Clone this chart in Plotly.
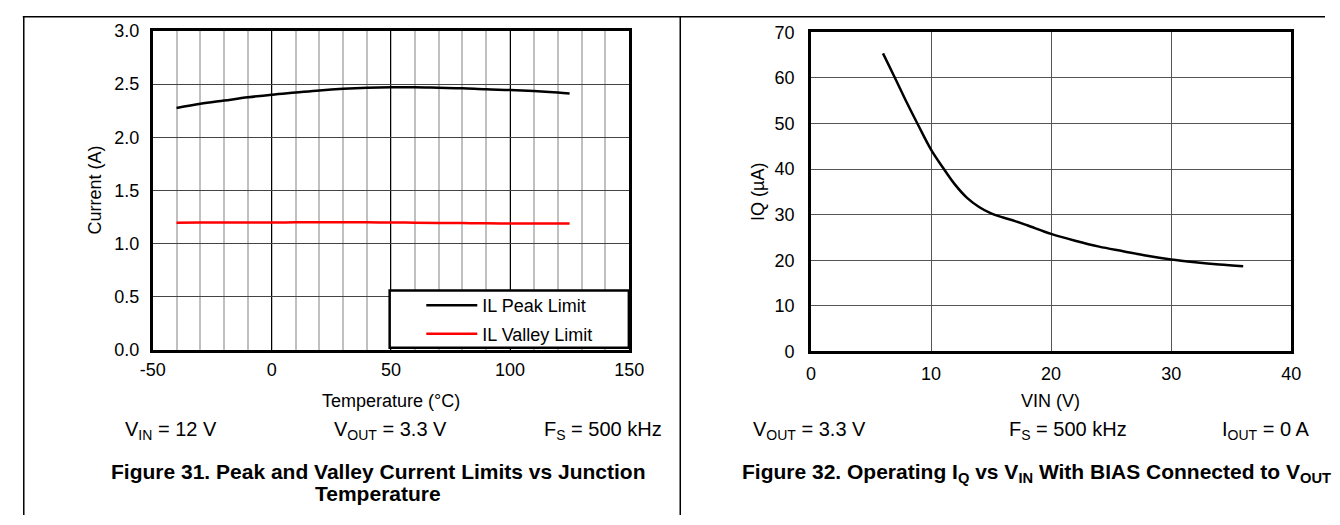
import plotly.graph_objects as go

# ---------------- data ----------------
temp_c = [-40, -30, -20, -10, 0, 10, 20, 30, 40, 50, 60, 70, 80, 90, 100, 110, 120, 125]
il_peak = [2.275, 2.315, 2.345, 2.375, 2.40, 2.42, 2.44, 2.455, 2.465, 2.47, 2.47,
           2.465, 2.46, 2.45, 2.445, 2.435, 2.42, 2.41]
il_valley = [1.196, 1.197, 1.197, 1.198, 1.198, 1.199, 1.200, 1.200, 1.199, 1.198,
             1.196, 1.194, 1.192, 1.190, 1.189, 1.188, 1.188, 1.188]

vin_v = [6, 7, 8, 9, 10, 11, 12, 13, 14, 15, 16, 17, 18, 20, 22, 24, 26, 28, 30, 32, 34, 36]
iq_ua = [65.4, 60.0, 54.5, 49.3, 44.3, 40.3, 36.6, 33.7, 31.7, 30.3, 29.4, 28.6, 27.7,
         25.8, 24.3, 23.0, 22.0, 21.0, 20.2, 19.6, 19.1, 18.7]

left_xticks = [-50, 0, 50, 100, 150]
left_xlabels = ["-50", "0", "50", "100", "150"]
left_yticks = [0.0, 0.5, 1.0, 1.5, 2.0, 2.5, 3.0]
left_ylabels = ["0.0", "0.5", "1.0", "1.5", "2.0", "2.5", "3.0"]
right_xticks = [0, 10, 20, 30, 40]
right_yticks = [0, 10, 20, 30, 40, 50, 60, 70]

W, H = 1340, 525
FONT = "Liberation Sans, Arial, sans-serif"


def px(x):
    return x / W


def py(y):
    return 1 - y / H


fig = go.Figure()

fig.add_trace(go.Scatter(x=temp_c, y=il_peak, mode="lines", name="IL Peak Limit",
                         line=dict(color="black", width=2.5, shape="spline"),
                         xaxis="x", yaxis="y", legendgroup="a"))
fig.add_trace(go.Scatter(x=temp_c, y=il_valley, mode="lines", name="IL Valley Limit",
                         line=dict(color="#ff0000", width=2.5, shape="spline"),
                         xaxis="x", yaxis="y", legendgroup="b"))
fig.add_trace(go.Scatter(x=vin_v, y=iq_ua, mode="lines", name="IQ",
                         line=dict(color="black", width=2.5, shape="spline"),
                         xaxis="x2", yaxis="y2", showlegend=False))

axis_common = dict(showline=True, mirror=True, linecolor="black", linewidth=2.5,
                   ticks="", zeroline=False, tickfont=dict(family=FONT, size=18, color="black"))

fig.update_layout(
    width=W, height=H, autosize=False,
    margin=dict(l=0, r=0, t=0, b=0),
    paper_bgcolor="white", plot_bgcolor="white",
    font=dict(family=FONT, color="black"),
    showlegend=True,
    legend=dict(x=px(417), y=py(288), xanchor="left", yanchor="top",
                bgcolor="rgba(0,0,0,0)", borderwidth=0,
                font=dict(family=FONT, size=18, color="black"),
                traceorder="grouped", tracegroupgap=2, itemwidth=51),
    xaxis=dict(domain=[px(142.7), px(629.3)], range=[-50, 150], tickvals=left_xticks,
               ticktext=left_xlabels, ticklabelstandoff=2,
               showgrid=True, gridcolor="black", gridwidth=1,
               minor=dict(dtick=10, tick0=0, showgrid=True, gridcolor="#c0c0c0", gridwidth=1.5),
               anchor="y", **axis_common),
    yaxis=dict(domain=[py(353.3), py(21.7)], range=[0, 3], tickvals=left_yticks,
               ticktext=left_ylabels, ticklabelstandoff=7,
               showgrid=True, gridcolor="#444444", gridwidth=1,
               anchor="x", **axis_common),
    xaxis2=dict(domain=[px(815), px(1305.5)], range=[0, 40], tickvals=right_xticks,
                ticklabelstandoff=4,
                showgrid=True, gridcolor="#555555", gridwidth=1,
                anchor="y2", **axis_common),
    yaxis2=dict(domain=[py(355), py(23.3)], range=[0, 70], tickvals=right_yticks,
                ticklabelstandoff=10,
                showgrid=True, gridcolor="#555555", gridwidth=1,
                anchor="x2", **axis_common),
)

# legend box and page frame
shapes = [
    dict(type="rect", xref="paper", yref="paper", x0=px(384.7), x1=px(629), y0=py(351), y1=py(291.7),
         line=dict(color="black", width=2.5), fillcolor="white", layer="above"),
    dict(type="line", xref="paper", yref="paper", x0=px(10), x1=1, y0=py(7), y1=py(7),
         line=dict(color="black", width=1.5)),
    dict(type="line", xref="paper", yref="paper", x0=px(11), x1=px(11), y0=py(7), y1=0,
         line=dict(color="black", width=1.5)),
    dict(type="line", xref="paper", yref="paper", x0=px(681.5), x1=px(681.5), y0=py(7), y1=0,
         line=dict(color="black", width=1.5)),
]
fig.update_layout(shapes=shapes)


def ann(text, x, y, size=18, xanchor="center", bold=False, angle=0):
    t = f"<b>{text}</b>" if bold else text
    return dict(text=t, x=px(x), y=py(y), xref="paper", yref="paper", showarrow=False,
                xanchor=xanchor, yanchor="middle", textangle=angle,
                font=dict(family=FONT, size=size, color="black"))


anns = [
    ann("Current (A)", 84, 187.5, angle=-90),
    ann("Temperature (°C)", 386, 406),
    ann("V<sub>IN</sub> = 12 V", 112, 437, size=20, xanchor="left"),
    ann("V<sub>OUT</sub> = 3.3 V", 386, 437, size=20),
    ann("F<sub>S</sub> = 500 kHz", 665, 437, size=20, xanchor="right"),
    ann("Figure 31. Peak and Valley Current Limits vs Junction", 373, 480, size=21, bold=True),
    ann("Temperature", 373, 503, size=21, bold=True),
    ann("IQ (µA)", 761, 189, angle=-90),
    ann("VIN (V)", 1060, 406),
    ann("V<sub>OUT</sub> = 3.3 V", 754, 437, size=20, xanchor="left"),
    ann("F<sub>S</sub> = 500 kHz", 1015, 437, size=20, xanchor="left"),
    ann("I<sub>OUT</sub> = 0 A", 1326, 437, size=20, xanchor="right"),
    ann("Figure 32. Operating I<sub>Q</sub> vs V<sub>IN</sub> With BIAS Connected to V<sub>OUT</sub>",
        743, 481, size=21, xanchor="left", bold=True),
]
fig.update_layout(annotations=anns)

fig.write_html("out.html", config={"displayModeBar": False},
               post_script="document.body.style.margin='0px';document.body.style.overflow='hidden';")
